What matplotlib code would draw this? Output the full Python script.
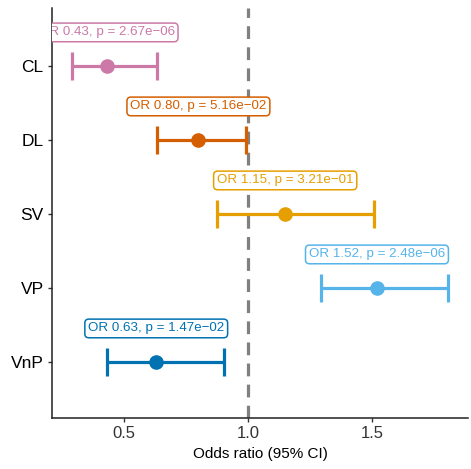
import matplotlib
matplotlib.use("Agg")
import matplotlib.pyplot as plt

plt.rcParams['font.family'] = ['Liberation Sans', 'DejaVu Sans']

categories = ["CL", "DL", "SV", "VP", "VnP"]
odds = [0.43, 0.80, 1.15, 1.52, 0.63]
lower = [0.29, 0.633, 0.874, 1.293, 0.431]
upper = [0.633, 0.99, 1.508, 1.806, 0.903]
pvals = ["2.67e\u221206", "5.16e\u221202", "3.21e\u221201", "2.48e\u221206", "1.47e\u221202"]
colors = ["#CC79A7", "#D55E00", "#E69F00", "#56B4E9", "#0072B2"]
xticks = [0.5, 1.0, 1.5]

fig = plt.figure(figsize=(4.71, 4.69), dpi=100)
ax = fig.add_axes([52/471, 1-418/469, (468-52)/471, (418-8)/469])

n = len(categories)
ypos = list(range(n-1, -1, -1))
for y, o, lo, hi, p, c in zip(ypos, odds, lower, upper, pvals, colors):
    ax.errorbar(o, y, xerr=[[o-lo], [hi-o]], fmt='o', color=c, ms=9.5,
                elinewidth=2.3, capsize=10, capthick=2.3, zorder=3)
    ax.text(o, y+0.45, f"OR {o:.2f}, p = {p}", ha='center', va='center',
            fontsize=9.6, color=c, clip_on=True, zorder=4,
            bbox=dict(boxstyle='round,pad=0.25,rounding_size=0.3', fc='white', ec=c, lw=1.1))

ax.axvline(1.0, color='#808080', lw=2.3, ls=(0, (4, 2.6)), zorder=2)

ax.set_xlim(52/248, 468/248)
ax.set_ylim(-0.76, n-1+0.78)
ax.set_yticks(ypos)
ax.set_yticklabels(categories, fontsize=12.5, color='black')
ax.set_xticks(xticks)
ax.set_xticklabels([f"{t:.1f}" for t in xticks], fontsize=12, color='#333333')
ax.set_xlabel("Odds ratio (95% CI)", fontsize=11, labelpad=4)
for s in ['top', 'right']:
    ax.spines[s].set_visible(False)
for s in ['left', 'bottom']:
    ax.spines[s].set_linewidth(1.1)
    ax.spines[s].set_color('#222222')
ax.tick_params(axis='both', length=3, width=1.0, color='#333333', pad=3)

fig.savefig("out.png", dpi=100)
